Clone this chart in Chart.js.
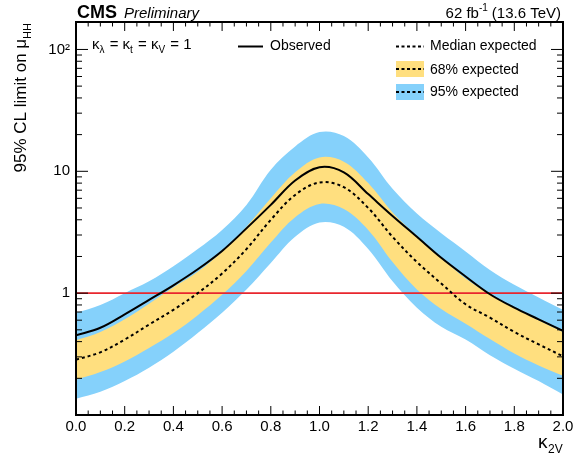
<!DOCTYPE html>
<html>
<head>
<meta charset="utf-8">
<script src="https://cdn.jsdelivr.net/npm/chart.js@4.4.1/dist/chart.umd.min.js"></script>
<style>
html, body { margin: 0; padding: 0; background: #fff; }
#wrap { width: 580px; height: 464px; }
</style>
</head>
<body>
<div id="wrap"><canvas id="limitChart"></canvas></div>
<script>
// valores (kappa_2V de 0.0 a 2.0)
const kappa2V   = [0.0, 0.1, 0.2, 0.3, 0.4, 0.5, 0.6, 0.7, 0.8, 0.9, 1.0, 1.1, 1.2, 1.3, 1.4, 1.5, 1.6, 1.7, 1.8, 1.9, 2.0];
const observed  = [0.45, 0.52, 0.67, 0.88, 1.16, 1.57, 2.22, 3.4, 5.3, 8.4, 10.8, 9.8, 6.5, 4.3, 2.9, 1.95, 1.37, 0.98, 0.76, 0.61, 0.49];
const expected  = [0.285, 0.327, 0.416, 0.552, 0.73, 1.0, 1.45, 2.3, 4.0, 6.4, 8.1, 7.4, 5.0, 2.9, 1.8, 1.2, 0.81, 0.63, 0.48, 0.38, 0.303];
const exp68Up   = [0.41, 0.48, 0.61, 0.82, 1.12, 1.5, 2.2, 3.5, 6.0, 9.8, 13.0, 12.0, 8.0, 4.6, 2.95, 1.95, 1.32, 0.98, 0.76, 0.6, 0.48];
const exp68Down = [0.195, 0.225, 0.275, 0.355, 0.47, 0.66, 0.97, 1.52, 2.6, 4.2, 5.4, 4.9, 3.3, 1.8, 1.07, 0.74, 0.56, 0.42, 0.32, 0.255, 0.21];
const exp95Up   = [0.69, 0.8, 1.0, 1.25, 1.66, 2.3, 3.3, 5.3, 10.3, 16, 21, 19.5, 13, 7.2, 4.5, 3.1, 2.2, 1.55, 1.17, 0.92, 0.73];
const exp95Down = [0.136, 0.155, 0.19, 0.244, 0.33, 0.47, 0.69, 1.07, 1.77, 2.9, 3.8, 3.5, 2.3, 1.25, 0.76, 0.53, 0.416, 0.31, 0.24, 0.19, 0.147];
const unitLine  = [1, 1];
const unitLineX = [0.0, 2.0];
const yTicks    = [1, 10, 100];

const YELLOW = '#ffdf7f';
const BLUE = '#85d1fb';
const FONT = '"Liberation Sans", Arial, sans-serif';

const pts = (xs, ys) => xs.map((k, i) => ({ x: k, y: ys[i] }));

// desenha moldura, ticks internos, textos e legenda
const decor = {
    id: 'decor',
    afterDraw(chart) {
        const { ctx, chartArea: a, scales: { x, y } } = chart;
        ctx.save();
        ctx.strokeStyle = '#000';
        ctx.lineWidth = 1;
        ctx.beginPath();
        for (let i = 0; i <= 40; i++) {
            const px = x.getPixelForValue(i * 0.05);
            const len = i % 4 === 0 ? 9 : 4.5;
            ctx.moveTo(px, a.bottom); ctx.lineTo(px, a.bottom - len);
            ctx.moveTo(px, a.top); ctx.lineTo(px, a.top + len);
        }
        [0.1, 1, 10, 100].forEach(d => {
            for (let m = 1; m <= 9; m++) {
                const v = m * d;
                if (v < y.min || v > y.max) continue;
                const py = y.getPixelForValue(v);
                const len = m === 1 ? 12 : 6;
                ctx.moveTo(a.left, py); ctx.lineTo(a.left + len, py);
                ctx.moveTo(a.right, py); ctx.lineTo(a.right - len, py);
            }
        });
        ctx.stroke();
        ctx.lineWidth = 2;
        ctx.strokeRect(a.left, a.top, a.right - a.left, a.bottom - a.top);

        ctx.fillStyle = '#000';
        ctx.textBaseline = 'alphabetic';
        // cabeçalho
        ctx.font = 'bold 18px ' + FONT;
        ctx.fillText('CMS', 77, 18);
        ctx.font = 'italic 15px ' + FONT;
        ctx.fillText('Preliminary', 124, 18);

        ctx.textAlign = 'right';
        ctx.font = '15px ' + FONT;
        let xr = 561;
        ctx.fillText('(13.6 TeV)', xr, 18);
        xr -= ctx.measureText('(13.6 TeV)').width + 4;
        ctx.font = '10px ' + FONT;
        ctx.fillText('-1', xr, 11);
        xr -= ctx.measureText('-1').width;
        ctx.font = '15px ' + FONT;
        ctx.fillText('62 fb', xr, 18);
        ctx.textAlign = 'left';

        // título do eixo y
        ctx.save();
        ctx.translate(26, 0);
        ctx.rotate(-Math.PI / 2);
        ctx.font = '17px ' + FONT;
        const main = '95% CL limit on \u03bc';
        const wMain = ctx.measureText(main).width;
        ctx.font = '11px ' + FONT;
        const wSub = ctx.measureText('HH').width;
        const start = -23 - wMain - wSub;
        ctx.font = '17px ' + FONT;
        ctx.fillText(main, start, 0);
        ctx.font = '11px ' + FONT;
        ctx.fillText('HH', start + wMain, 5);
        ctx.restore();

        // título do eixo x
        ctx.font = '19px ' + FONT;
        ctx.fillText('\u03ba', 538, 448);
        ctx.font = '12px ' + FONT;
        ctx.fillText('2V', 548, 453);

        // texto kappa
        let xp = 92;
        const parts = [['\u03ba', 'λ'], [' = \u03ba', 't'], [' = \u03ba', 'V'], [' = 1', '']];
        parts.forEach(([t, s]) => {
            ctx.font = '15px ' + FONT;
            ctx.fillText(t, xp, 49);
            xp += ctx.measureText(t).width;
            if (s) {
                ctx.font = '10px ' + FONT;
                ctx.fillText(s, xp, 53);
                xp += ctx.measureText(s).width + 1;
            }
        });

        // legenda
        ctx.font = '14px ' + FONT;
        ctx.textBaseline = 'middle';
        ctx.lineWidth = 2;
        ctx.beginPath(); ctx.moveTo(238, 46.5); ctx.lineTo(263, 46.5); ctx.stroke();
        ctx.fillText('Observed', 270, 46.5);

        ctx.fillStyle = YELLOW; ctx.fillRect(396, 61, 28, 16);
        ctx.fillStyle = BLUE; ctx.fillRect(396, 84, 28, 16);
        ctx.setLineDash([3, 2.5]);
        [46.5, 69, 92].forEach(yy => {
            ctx.beginPath(); ctx.moveTo(396, yy); ctx.lineTo(424, yy); ctx.stroke();
        });
        ctx.setLineDash([]);
        ctx.fillStyle = '#000';
        ctx.fillText('Median expected', 430, 46.5);
        ctx.fillText('68% expected', 430, 70);
        ctx.fillText('95% expected', 430, 92.5);
        ctx.restore();
    }
};

const curve = { pointRadius: 0, tension: 0.35 };

new Chart(document.getElementById('limitChart'), {
    type: 'line',
    data: {
        datasets: [
            { ...curve, label: 'Observed', data: pts(kappa2V, observed), borderColor: '#000', borderWidth: 2, fill: false, order: 1 },
            { ...curve, label: 'Median expected', data: pts(kappa2V, expected), borderColor: '#000', borderWidth: 2, borderDash: [3, 3], fill: false, order: 2 },
            { label: 'r1', data: pts(unitLineX, unitLine), borderColor: '#e8262e', borderWidth: 1.8, pointRadius: 0, fill: false, order: 3 },
            { ...curve, label: '68% up', data: pts(kappa2V, exp68Up), borderWidth: 0, backgroundColor: YELLOW, fill: '+1', order: 4 },
            { ...curve, label: '68% down', data: pts(kappa2V, exp68Down), borderWidth: 0, fill: false, order: 5 },
            { ...curve, label: '95% up', data: pts(kappa2V, exp95Up), borderWidth: 0, backgroundColor: BLUE, fill: '+1', order: 6 },
            { ...curve, label: '95% down', data: pts(kappa2V, exp95Down), borderWidth: 0, fill: false, order: 7 }
        ]
    },
    options: {
        responsive: true,
        maintainAspectRatio: false,
        animation: false,
        devicePixelRatio: 1,
        layout: { padding: { left: 0, right: 17, top: 22, bottom: 0 } },
        plugins: { legend: { display: false }, tooltip: { enabled: false } },
        scales: {
            x: {
                type: 'linear',
                min: 0, max: 2,
                grid: { display: false, drawTicks: false },
                border: { display: false },
                ticks: { stepSize: 0.2, color: '#000', font: { family: FONT, size: 15 }, padding: 3, maxRotation: 0,
                    callback: v => v.toFixed(1) },
                afterFit: s => { s.height = 49; }
            },
            y: {
                type: 'logarithmic',
                min: 0.1, max: 168,
                grid: { display: false, drawTicks: false },
                border: { display: false },
                afterBuildTicks: s => { s.ticks = yTicks.map(v => ({ value: v })); },
                ticks: { color: '#000', font: { family: FONT, size: 15 }, padding: 6,
                    callback: v => v === 100 ? '10\u00b2' : String(v) },
                afterFit: s => { s.width = 76; }
            }
        }
    },
    plugins: [decor]
});
</script>
</body>
</html>
